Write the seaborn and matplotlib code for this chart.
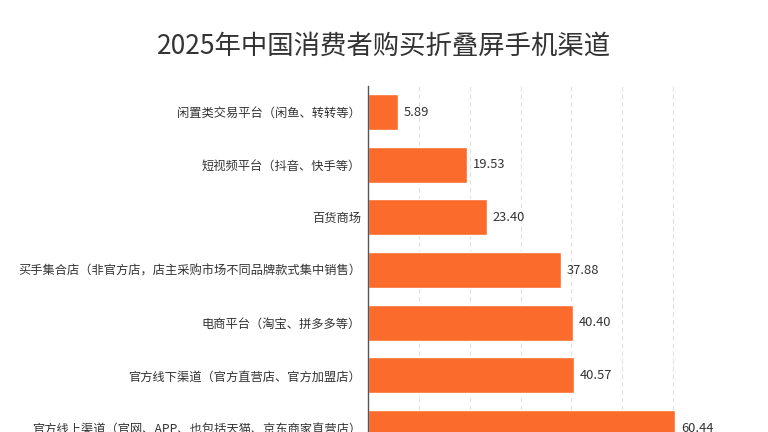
import matplotlib
matplotlib.use("Agg")
import matplotlib.pyplot as plt
import seaborn as sns
import pandas as pd

categories = [
    "闲置类交易平台（闲鱼、转转等）",
    "短视频平台（抖音、快手等）",
    "百货商场",
    "买手集合店（非官方店，店主采购市场不同品牌款式集中销售）",
    "电商平台（淘宝、拼多多等）",
    "官方线下渠道（官方直营店、官方加盟店）",
    "官方线上渠道（官网、APP、也包括天猫、京东商家直营店）",
]
values = [5.89, 19.53, 23.40, 37.88, 40.40, 40.57, 60.44]
title = "2025年中国消费者购买折叠屏手机渠道"

sns.set_style("white")
plt.rcParams['font.family'] = ['Noto Sans CJK SC', 'DejaVu Sans']

df = pd.DataFrame({"channel": categories, "share": values})

fig = plt.figure(figsize=(7.68, 4.32), dpi=100)
W, H = 768, 432
left_px, right_px = 368, 724
top_px, bottom_px = 85.7, 454.4
ax = fig.add_axes([left_px / W, 1 - bottom_px / H,
                   (right_px - left_px) / W, (bottom_px - top_px) / H])

sns.barplot(data=df, y="channel", x="share", orient="h", color="#FB6B2C",
            saturation=1, width=0.68, ax=ax)

ax.set_xlim(0, 70)
ax.set_ylim(6.5, -0.5)
ax.set_xticks(range(0, 71, 10))
ax.xaxis.grid(True, linestyle=(0, (4, 3)), color="#e0e0e0", linewidth=0.8)
ax.set_axisbelow(True)
ax.set_xlabel("")
ax.set_ylabel("")
ax.tick_params(axis="x", length=0, labelbottom=False)
ax.tick_params(axis="y", length=0, pad=5, labelsize=8.8, labelcolor="#333333")
for s in ["top", "right", "bottom"]:
    ax.spines[s].set_visible(False)
ax.spines["left"].set_color("#555555")
ax.spines["left"].set_linewidth(1.0)

for c in ax.containers:
    ax.bar_label(c, fmt="%.2f", padding=4, fontsize=9.3, color="#333333")

fig.text(0.5, 1 - 46 / H, title, ha="center", va="center",
         fontsize=19, color="#333333")

fig.savefig("out.png", dpi=100)
